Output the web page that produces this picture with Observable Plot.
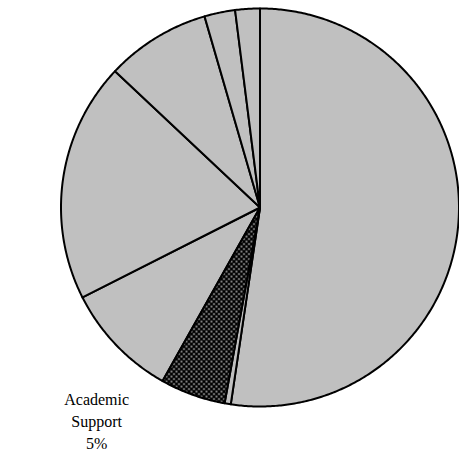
<!DOCTYPE html>
<html>
<head>
<meta charset="utf-8">
<script src="https://cdn.jsdelivr.net/npm/d3@7"></script>
<script src="https://cdn.jsdelivr.net/npm/@observablehq/plot@0.6"></script>
<style>
  html, body { margin: 0; padding: 0; background: #fff; }
  #chart { width: 459px; height: 460px; }
  #chart svg text { font-family: "Liberation Serif", "Times New Roman", serif; }
</style>
</head>
<body>
<div id="chart"></div>
<script>
// Data (percent shares, clockwise from 12 o'clock)
const categories = [
  "Instruction",
  "Research",
  "Academic Support",
  "Student Services",
  "Institutional Support",
  "Operation and Maintenance",
  "Public Service",
  "Scholarships"
];
const values = [52.4, 0.5, 5.3, 9.4, 19.5, 8.5, 2.5, 2.0];
const labeled = ["Academic Support"];
const patterned = ["Academic Support"];

const total = d3.sum(values);
const pie = d3.pie().sort(null).value(d => d.value)(
  categories.map((c, i) => ({category: c, value: values[i]}))
);

// Build slice outlines (center -> arc -> center) in unit coordinates
const pts = [];
for (const s of pie) {
  const cat = s.data.category;
  pts.push({category: cat, x: 0, y: 0});
  const n = Math.max(2, Math.ceil((s.endAngle - s.startAngle) / (Math.PI / 360)));
  for (let k = 0; k <= n; k++) {
    const a = s.startAngle + (s.endAngle - s.startAngle) * k / n;
    pts.push({category: cat, x: Math.sin(a), y: Math.cos(a)});
  }
  pts.push({category: cat, x: 0, y: 0});
}
const labelData = pie.filter(s => labeled.includes(s.data.category)).map(s => {
  const a = (s.startAngle + s.endAngle) / 2;
  return {
    x: Math.sin(a), y: Math.cos(a),
    text: s.data.category.replace(" ", "\n") + "\n" + Math.round(s.data.value / total * 100) + "%"
  };
});

const plot = Plot.plot({
  width: 459,
  height: 460,
  margin: 0,
  x: {domain: [-1, 1], range: [60.5, 458.5], axis: null},
  y: {domain: [-1, 1], range: [406, 8], axis: null},
  style: {background: "#fff"},
  marks: [
    Plot.line(pts.filter(d => !patterned.includes(d.category)), {
      x: "x", y: "y", z: "category", fill: "#c0c0c0", stroke: "#000",
      strokeWidth: 2, strokeLinejoin: "round", curve: "linear"
    }),
    Plot.line(pts.filter(d => patterned.includes(d.category)), {
      x: "x", y: "y", z: "category", fill: "url(#dots)", stroke: "#000",
      strokeWidth: 2, strokeLinejoin: "round", curve: "linear"
    }),
    Plot.text(labelData, {
      x: "x", y: "y", text: "text", dx: -96, dy: 25,
      fontSize: 16, lineHeight: 1.4, fill: "#000", textAnchor: "middle", lineAnchor: "middle",
      fontFamily: "Liberation Serif"
    })
  ]
});

// Pattern definition for the dotted slice
const ns = "http://www.w3.org/2000/svg";
const defs = document.createElementNS(ns, "defs");
const pat = document.createElementNS(ns, "pattern");
pat.setAttribute("id", "dots");
pat.setAttribute("patternUnits", "userSpaceOnUse");
pat.setAttribute("width", "5");
pat.setAttribute("height", "5");
const bg = document.createElementNS(ns, "rect");
bg.setAttribute("width", "5"); bg.setAttribute("height", "5"); bg.setAttribute("fill", "#000");
pat.appendChild(bg);
for (const [cx, cy] of [[1, 1], [3.5, 3.5]]) {
  const c = document.createElementNS(ns, "circle");
  c.setAttribute("cx", cx); c.setAttribute("cy", cy); c.setAttribute("r", "0.85");
  c.setAttribute("fill", "#fff");
  pat.appendChild(c);
}
defs.appendChild(pat);
plot.insertBefore(defs, plot.firstChild);

document.getElementById("chart").appendChild(plot);
</script>
</body>
</html>
